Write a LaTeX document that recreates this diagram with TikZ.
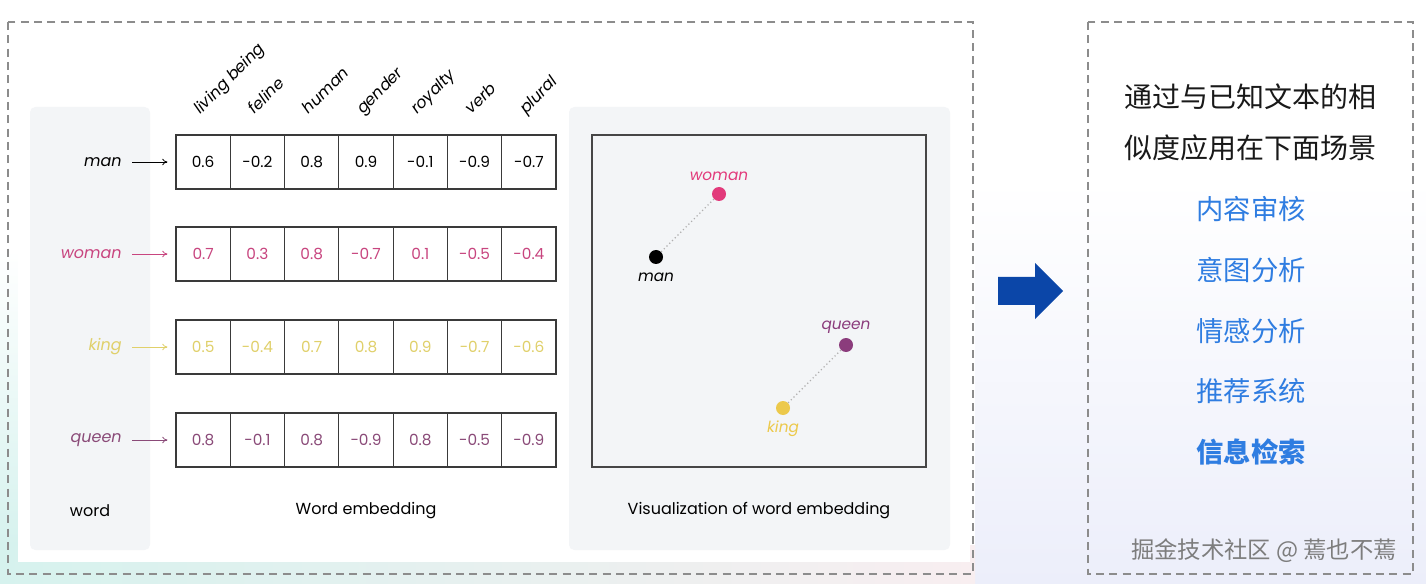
\documentclass[tikz,border=0pt]{standalone}
\usepackage{fontspec}
\setmainfont{Poppins}
\newfontfamily\cjk{Noto Sans CJK SC}
\usetikzlibrary{arrows.meta}
\definecolor{womanc}{HTML}{C8457F}
\definecolor{womandot}{HTML}{E23A7B}
\definecolor{kingc}{HTML}{E0D06A}
\definecolor{kingdot}{HTML}{ECC94B}
\definecolor{queenc}{HTML}{8A4A78}
\definecolor{queendot}{HTML}{8B3C7C}
\definecolor{panelc}{HTML}{F3F5F7}
\definecolor{dashc}{HTML}{8C8C8C}
\definecolor{bluet}{HTML}{2F7DE1}
\definecolor{arrowblue}{HTML}{0B46A8}
\definecolor{cellline}{HTML}{3A3A3A}
\tikzset{
  dbox/.style={draw=dashc, line width=1pt, dash pattern=on 6pt off 4pt},
  panel/.style={fill=panelc, rounded corners=4pt},
  cell/.style={draw=cellline, line width=0.8pt, minimum width=40.7pt, minimum height=40.5pt, inner sep=0pt, font=\fontsize{11.5}{13}\selectfont},
  rowlab/.style={anchor=east, inner sep=0pt, font=\fontsize{12}{14}\selectfont\itshape},
  collab/.style={rotate=45, anchor=base west, inner sep=0pt, font=\fontsize{12}{14}\selectfont\itshape},
  arr/.style={-{To[length=4pt,width=5pt]}, line width=0.6pt, shorten <=7.5pt, shorten >=6pt},
  caption/.style={font=\fontsize{12}{14}\selectfont},
  dot/.style={circle, minimum size=10.5pt, inner sep=0pt},
  plab/.style={font=\fontsize{11.5}{13}\selectfont\itshape, inner sep=0pt},
  link/.style={draw={rgb,255:red,175;green,175;blue,175}, dotted, line width=0.9pt},
  cjkblack/.style={font=\cjk\fontsize{21}{24}\selectfont, text={rgb,255:red,25;green,25;blue,25}},
  cjkblue/.style={font=\cjk\fontsize{20.5}{24}\selectfont, text=bluet},
}
\begin{document}
\begin{tikzpicture}[x=0.75pt,y=-0.75pt]
\useasboundingbox (0,0) rectangle (1426,584);
% background
\fill[white] (0,0) rectangle (1426,584);
\shade[top color=white, bottom color={rgb,255:red,236;green,238;blue,250}] (975,180) rectangle (1426,584);
\shade[left color={rgb,255:red,214;green,242;blue,238}, right color={rgb,255:red,248;green,238;blue,240}] (0,545) rectangle (975,584);
\shade[top color=white, bottom color={rgb,255:red,214;green,242;blue,238}] (0,250) rectangle (20,545);
\fill[white] (18,30) rectangle (970,562);
% dashed boxes
\draw[dbox] (8,22) rectangle (973,574);
\draw[dbox] (1088,22) rectangle (1413,574);
% panels
\fill[panel] (30,107) rectangle (150,550);
\fill[panel] (569,107) rectangle (950,550);
% column labels
\foreach \t [count=\i] in {living being, feline, human, gender, royalty, verb, plural}
  \node[collab] (col\i) at ({176+(\i-0.5)*54.29-3},115) {\t};
% rows
\foreach \r/\y/\c/\vals in {man/162/black/{0.6,-0.2,0.8,0.9,-0.1,-0.9,-0.7},
                             woman/254/womanc/{0.7,0.3,0.8,-0.7,0.1,-0.5,-0.4},
                             king/347/kingc/{0.5,-0.4,0.7,0.8,0.9,-0.7,-0.6},
                             queen/440/queenc/{0.8,-0.1,0.8,-0.9,0.8,-0.5,-0.9}}{
  \node[rowlab, text=\c] (l\r) at (122,\y) {\r};
  \foreach \v [count=\i] in \vals
    \node[cell, text=\c] (\r-\i) at ({176+(\i-0.5)*54.29},\y) {\v};
  \draw[arr, draw=\c] (l\r) -- (\r-1);
}
\node[caption] (cword) at (90,511) {word};
\node[caption] (cemb) at (366,511) {Word embedding};
% plot
\node[draw={rgb,255:red,70;green,70;blue,70}, line width=0.8pt, minimum width=250.5pt, minimum height=249pt, inner sep=0pt] (plot) at (759,301) {};
\node[dot, fill=womandot] (dwoman) at (719,194) {};
\node[dot, fill=black] (dman) at (656,257) {};
\node[dot, fill=queendot] (dqueen) at (846,345) {};
\node[dot, fill=kingdot] (dking) at (783,408) {};
\draw[link] (dman) -- (dwoman);
\draw[link] (dking) -- (dqueen);
\node[plab, text=womandot] (pwoman) at (719,176) {woman};
\node[plab, text=black] (pman) at (656,277) {man};
\node[plab, text=queendot] (pqueen) at (846,327) {queen};
\node[plab, text=kingdot] (pking) at (783,429) {king};
\node[caption] (cvis) at (759,511) {Visualization of word embedding};
% big arrow
\fill[arrowblue] (998,277) -- (1035,277) -- (1035,263) -- (1063,291) -- (1035,319) -- (1035,305) -- (998,305) -- cycle;
% right text
\node[cjkblack] (t1) at (1250,97) {通过与已知文本的相};
\node[cjkblack] (t2) at (1250,148) {似度应用在下面场景};
\node[cjkblue] (b1) at (1251,209) {内容审核};
\node[cjkblue] (b2) at (1251,270) {意图分析};
\node[cjkblue] (b3) at (1251,331) {情感分析};
\node[cjkblue] (b4) at (1251,391) {推荐系统};
\node[cjkblue, font=\cjk\bfseries\fontsize{20.5}{24}\selectfont] (b5) at (1251,452) {信息检索};
\node[font=\cjk\fontsize{17.5}{20}\selectfont, text={rgb,255:red,125;green,125;blue,125}] (wm) at (1264,551) {掘金技术社区 @ 蔫也不蔫};
\end{tikzpicture}
\end{document}
